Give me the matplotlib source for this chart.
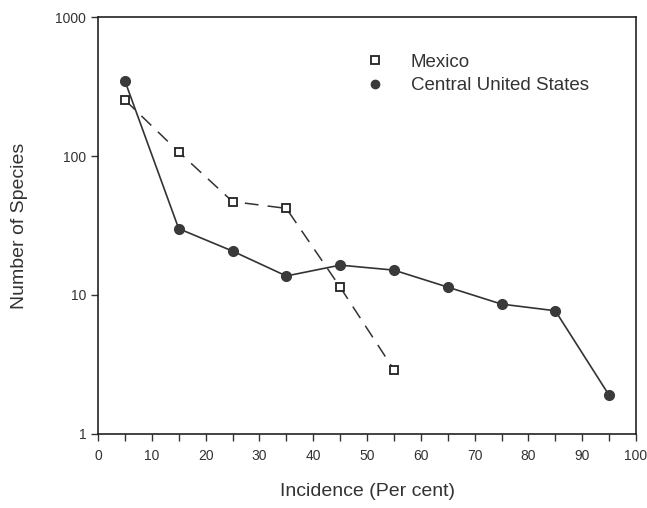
import matplotlib.pyplot as plt

plt.rcParams['font.family'] = ['Liberation Sans', 'DejaVu Sans']

incidence_mex = [5, 15, 25, 35, 45, 55]
species_mex = [253, 107, 47, 42, 11.4, 2.9]

incidence_us = [5, 15, 25, 35, 45, 55, 65, 75, 85, 95]
species_us = [347, 30, 20.7, 13.7, 16.4, 15.1, 11.4, 8.6, 7.7, 1.9]

xtick_vals = [0, 10, 20, 30, 40, 50, 60, 70, 80, 90, 100]
ytick_vals = [1, 10, 100, 1000]

fig = plt.figure(figsize=(6.47, 5.08), dpi=100)
ax = fig.add_axes([0.1515, 0.1457, 0.8315, 0.8208])

ax.plot(incidence_mex, species_mex, color='#333333', lw=1.1,
        dashes=(9, 6), marker='s', ms=6, mfc='white', mec='#222222',
        mew=1.3, label='Mexico')
ax.plot(incidence_us, species_us, color='#333333', lw=1.2,
        marker='o', ms=7, mfc='#3a3a3a', mec='#3a3a3a',
        label='Central United States')

ax.set_yscale('log')
ax.set_xlim(0, 100)
ax.set_ylim(1, 1000)
ax.set_xticks(xtick_vals)
ax.set_xticks(range(5, 100, 10), minor=True)
ax.set_yticks(ytick_vals)
ax.set_yticklabels([str(v) for v in ytick_vals])
ax.yaxis.set_minor_locator(plt.NullLocator())
ax.tick_params(axis='both', which='both', direction='out', labelsize=10,
               colors='#333333', length=5, width=1)
ax.tick_params(axis='x', pad=6)

for s in ax.spines.values():
    s.set_color('#222222')
    s.set_linewidth(1.2)

ax.set_xlabel('Incidence (Per cent)', fontsize=14, color='#333333', labelpad=14)
ax.set_ylabel('Number of Species', fontsize=14, color='#333333', labelpad=20)

leg = ax.legend(loc='upper left', bbox_to_anchor=(0.48, 0.935), frameon=False,
                fontsize=13.5, handlelength=1.0, handletextpad=1.4,
                labelspacing=0.35, borderpad=0)
for h in leg.legend_handles:
    h.set_linestyle('None')
    h.set_markersize(6)
for t in leg.get_texts():
    t.set_color('#333333')

fig.savefig('out.png', dpi=100)
